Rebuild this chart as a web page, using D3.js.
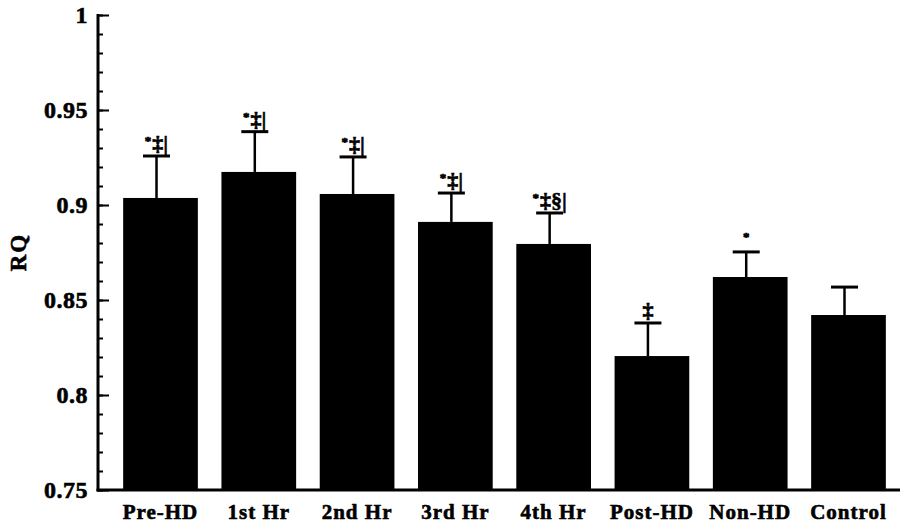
<!DOCTYPE html>
<html>
<head>
<meta charset="utf-8">
<script src="https://cdn.jsdelivr.net/npm/d3@7"></script>
<style>
	body { margin: 0; background: #fff; }
	svg text { font-family: "Liberation Serif", "Times New Roman", serif; font-weight: bold; fill: #000; stroke: #000; stroke-width: 0.6px; }
</style>
</head>
<body>
<div id="chart"></div>
<script>
var categories = ["Pre-HD", "1st Hr", "2nd Hr", "3rd Hr", "4th Hr", "Post-HD", "Non-HD", "Control"];
var means = [0.9037, 0.9174, 0.9058, 0.8911, 0.8795, 0.8205, 0.8621, 0.8421];
var errors = [0.0221, 0.0212, 0.0195, 0.0152, 0.0163, 0.0174, 0.0132, 0.0147];
var marks = ["*‡|", "*‡|", "*‡|", "*‡|", "*‡§|", "‡", "*", ""];
var yTicks = [0.75, 0.8, 0.85, 0.9, 0.95, 1];
var yTickLabels = ["0.75", "0.8", "0.85", "0.9", "0.95", "1"];

var conf = { width: 900, height: 525, left: 98, right: 900, top: 15, bottom: 490 };

var $svg = d3.select("#chart").append("svg")
	.attr("width", conf.width)
	.attr("height", conf.height);

var x = d3.scaleBand()
	.domain(categories)
	.range([conf.left, conf.right])
	.paddingInner(0.24)
	.paddingOuter(0.2)
	.align(0.64);

var y = d3.scaleLinear()
	.domain([0.75, 1])
	.range([conf.bottom, conf.top]);

// bars
$svg.selectAll("rect.bar").data(categories)
	.enter().append("rect")
	.attr("class", "bar")
	.attr("x", function(d) { return x(d); })
	.attr("y", function(d, i) { return y(means[i]); })
	.attr("width", x.bandwidth())
	.attr("height", function(d, i) { return y(0.75) - y(means[i]); })
	.attr("fill", "#000");

// error bars (upper only)
var capW = 27;
var errX = function(d) { return x(d) + x.bandwidth() / 2 - 4; };
var $err = $svg.selectAll("g.err").data(categories)
	.enter().append("g")
	.attr("class", "err");
$err.append("line")
	.attr("x1", errX)
	.attr("x2", errX)
	.attr("y1", function(d, i) { return y(means[i]); })
	.attr("y2", function(d, i) { return y(means[i] + errors[i]); })
	.attr("stroke", "#000")
	.attr("stroke-width", 2.5);
$err.append("line")
	.attr("x1", function(d) { return errX(d) - capW / 2; })
	.attr("x2", function(d) { return errX(d) + capW / 2; })
	.attr("y1", function(d, i) { return y(means[i] + errors[i]); })
	.attr("y2", function(d, i) { return y(means[i] + errors[i]); })
	.attr("stroke", "#000")
	.attr("stroke-width", 3);

// significance marks
var $marks = $svg.selectAll("text.mark").data(categories)
	.enter().append("text")
	.attr("class", "mark")
	.attr("x", errX)
	.attr("y", function(d, i) { return y(means[i] + errors[i]) - 5; })
	.attr("text-anchor", "middle")
	.style("font-size", "22px");
$marks.each(function(d, i) {
	var s = marks[i], $t = d3.select(this);
	if (s.charAt(0) === "*") {
		$t.append("tspan").attr("dy", -6).style("font-size", "13px").text("*");
		s = s.slice(1);
		if (s.length) $t.append("tspan").attr("dy", 6).attr("dx", 1).text(s);
	} else {
		$t.append("tspan").text(s);
	}
});

// y axis: major + minor ticks pointing inward
var $yAxis = $svg.append("g")
	.attr("transform", "translate(" + conf.left + ",0)")
	.call(d3.axisRight(y).tickValues(d3.range(0.75, 1.0001, 0.01)).tickSize(5).tickFormat(""));
$yAxis.append("g")
	.call(d3.axisRight(y).tickValues(yTicks).tickSize(11).tickFormat(""));
$yAxis.selectAll(".domain").remove();
$yAxis.selectAll("line").attr("stroke", "#000").attr("stroke-width", 2);
$svg.append("line")
	.attr("x1", conf.left).attr("x2", conf.left)
	.attr("y1", y(1) - 1).attr("y2", y(0.75) + 1.5)
	.attr("stroke", "#000").attr("stroke-width", 3);

$svg.selectAll("text.ylab").data(yTicks)
	.enter().append("text")
	.attr("class", "ylab")
	.attr("x", 88)
	.attr("y", function(d) { return y(d); })
	.attr("dy", "0.35em")
	.attr("text-anchor", "end")
	.style("font-size", "24px")
	.style("letter-spacing", "0.5px")
	.text(function(d, i) { return yTickLabels[i]; });

// x axis
$svg.append("line")
	.attr("x1", conf.left - 1.5).attr("x2", conf.right)
	.attr("y1", y(0.75)).attr("y2", y(0.75))
	.attr("stroke", "#000").attr("stroke-width", 3);

$svg.selectAll("text.xlab").data(categories)
	.enter().append("text")
	.attr("class", "xlab")
	.attr("x", function(d) { return x(d) + x.bandwidth() / 2; })
	.attr("y", 519)
	.attr("text-anchor", "middle")
	.style("font-size", "21px")
	.style("letter-spacing", "1px")
	.text(function(d) { return d; });

$svg.append("text")
	.attr("transform", "translate(26,252) rotate(-90)")
	.attr("text-anchor", "middle")
	.style("font-size", "23px")
	.style("letter-spacing", "2px")
	.text("RQ");
</script>
</body>
</html>
